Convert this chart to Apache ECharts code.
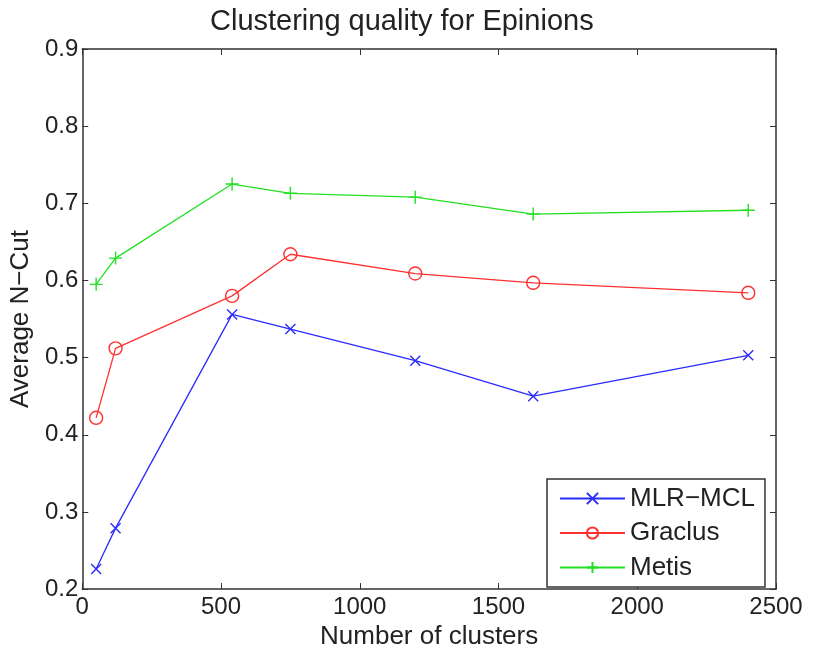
<!DOCTYPE html>
<html>
<head>
<meta charset="utf-8">
<script src="https://cdn.jsdelivr.net/npm/echarts@6/dist/echarts.min.js"></script>
<style>html,body{margin:0;padding:0;background:#fff}#c{width:813px;height:655px}</style>
</head>
<body>
<div id="c"></div>
<script>
const clusters = [50, 120, 540, 750, 1200, 1625, 2400];
const mlrMcl = [0.226, 0.279, 0.556, 0.537, 0.496, 0.450, 0.503];
const graclus = [0.422, 0.512, 0.580, 0.634, 0.609, 0.597, 0.584];
const metis = [0.595, 0.629, 0.725, 0.713, 0.708, 0.686, 0.691];
const seriesNames = ['MLR\u2212MCL', 'Graclus', 'Metis'];
const titleText = 'Clustering quality for Epinions';
const xName = 'Number of clusters';
const yName = 'Average N\u2212Cut';

const FONT = '"Liberation Sans", Arial, Helvetica, sans-serif';
const AX = '#333';
const pair = v => clusters.map((x, i) => [x, v[i]]);

const chart = echarts.init(document.getElementById('c'), null, {renderer: 'canvas'});
const axisCommon = {
  axisLine: {show: true, onZero: false, lineStyle: {color: AX, width: 1.5}},
  axisTick: {show: true, inside: true, length: 6, lineStyle: {color: AX, width: 1}},
  splitLine: {show: false}
};
function mkSeries(name, data, color, symbol, size) {
  return {
    name, type: 'line', data: pair(data), symbol, symbolSize: size,
    lineStyle: {color, width: 1.3},
    itemStyle: {color: 'transparent', borderColor: color, borderWidth: 1.4},
    emphasis: {disabled: true}, animation: false, z: 3
  };
}
chart.setOption({
  animation: false,
  title: {
    text: titleText, left: 205, top: 2,
    textStyle: {fontFamily: FONT, fontSize: 29, fontWeight: 'normal', color: '#222'}
  },
  grid: {left: 82, top: 49, right: 37, bottom: 60, containLabel: false},
  legend: {
    left: 547, top: 479, orient: 'vertical',
    itemWidth: 65, itemHeight: 14, itemGap: 4.5,
    padding: [4.5, 10, 4.5, 12],
    borderColor: AX, borderWidth: 1.5, backgroundColor: '#fff',
    textStyle: {fontFamily: FONT, fontSize: 26, color: '#222', lineHeight: 30},
    data: seriesNames
  },
  xAxis: [
    Object.assign({
      type: 'value', min: 0, max: 2500, interval: 500, position: 'bottom',
      name: xName, nameLocation: 'middle', nameGap: 32,
      nameTextStyle: {fontFamily: FONT, fontSize: 26, color: '#222'},
      axisLabel: {fontFamily: FONT, fontSize: 24, color: '#222', margin: 6,
        formatter: v => String(v)}
    }, axisCommon),
    Object.assign({
      type: 'value', min: 0, max: 2500, interval: 500, position: 'top',
      axisLabel: {show: false}
    }, axisCommon)
  ],
  yAxis: [
    Object.assign({
      type: 'value', min: 0.2, max: 0.9, interval: 0.1, position: 'left',
      name: yName, nameLocation: 'middle', nameGap: 44, nameRotate: 90,
      nameTextStyle: {fontFamily: FONT, fontSize: 26, color: '#222'},
      axisLabel: {fontFamily: FONT, fontSize: 24, color: '#222', margin: 4,
        formatter: v => v.toFixed(1)}
    }, axisCommon),
    Object.assign({
      type: 'value', min: 0.2, max: 0.9, interval: 0.1, position: 'right',
      axisLabel: {show: false}
    }, axisCommon)
  ],
  series: [
    mkSeries(seriesNames[0], mlrMcl, '#2b2bff', 'path://M0,0L10,10M10,0L0,10', 10),
    mkSeries(seriesNames[1], graclus, '#ff3030', 'circle', 13),
    mkSeries(seriesNames[2], metis, '#22e022', 'path://M5,0L5,10M0,5L10,5', 13)
  ]
});
</script>
</body>
</html>
